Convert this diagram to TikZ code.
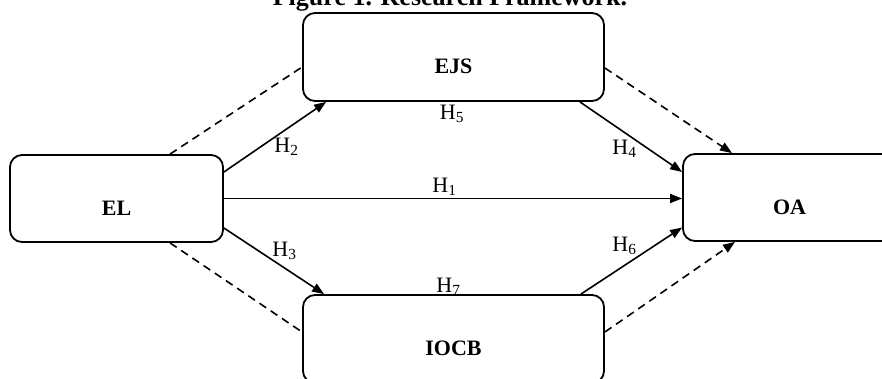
\documentclass[tikz,border=0pt]{standalone}
\usepackage{fontspec}
\setmainfont{Liberation Serif}
\usetikzlibrary{arrows.meta}

\begin{document}
\begin{tikzpicture}[x=1pt,y=-1pt,
        factor/.style={draw,line width=1.8pt,rounded corners=12pt,inner sep=0pt,
            font=\fontsize{22}{26}\selectfont\bfseries,text height=33pt,text depth=0pt},
        hyp/.style={line width=1.6pt,-{Triangle[length=12pt,width=9pt]}},
        med/.style={line width=1.6pt,dash pattern=on 8pt off 5.5pt},
        hlab/.style={font=\fontsize{22}{26}\selectfont,inner sep=0pt,text height=14.5pt,text depth=0pt}]
        \clip (0,0) rectangle (882,378);
        %% title
        \node[font=\fontsize{26}{30}\selectfont\bfseries,anchor=base] (title) at (450,5) {Figure 1. Research Framework.};
        %% factors
        \node[factor,minimum width=213pt,minimum height=87pt] (el) at (116.5,198.5) {EL};
        \node[factor,minimum width=301pt,minimum height=88pt] (ejs) at (453.5,57) {EJS};
        \node[factor,minimum width=301pt,minimum height=88pt] (iocb) at (453.5,339) {IOCB};
        \node[factor,minimum width=213pt,minimum height=87pt] (oa) at (789.5,197.5) {OA};
        %% direct paths
        \draw[hyp] (el.east) -- (oa.west |- el.east);
        \draw[hyp] ([yshift=26.5pt]el.east) -- ([xshift=24pt]ejs.south west);
        \draw[hyp] ([yshift=-29.5pt]el.east) -- ([xshift=22pt]iocb.north west);
        \draw[hyp] ([xshift=-25pt]ejs.south east) -- ([yshift=25.5pt]oa.west);
        \draw[hyp] ([xshift=-24pt]iocb.north east) -- ([yshift=-30pt]oa.west);
        %% mediated paths
        \draw[med] ([xshift=53.5pt]el.north) -- ([yshift=-10pt]ejs.west);
        \draw[hyp,med] ([yshift=-11pt]ejs.east) -- ([xshift=-57.5pt]oa.north);
        \draw[med] ([xshift=53.5pt]el.south) -- ([yshift=7pt]iocb.west);
        \draw[hyp,med] ([yshift=7pt]iocb.east) -- ([xshift=-54.5pt]oa.south);
        %% hypotheses
        \node[hlab] (h1) at (444.5,185) {H\textsubscript{1}};
        \node[hlab] (h2) at (286.5,145.5) {H\textsubscript{2}};
        \node[hlab] (h3) at (284.5,249.5) {H\textsubscript{3}};
        \node[hlab] (h4) at (624.5,147.5) {H\textsubscript{4}};
        \node[hlab] (h5) at (452,112) {H\textsubscript{5}};
        \node[hlab] (h6) at (624.5,244.5) {H\textsubscript{6}};
        \node[hlab] (h7) at (448.5,285) {H\textsubscript{7}};
    \end{tikzpicture}
\end{document}
